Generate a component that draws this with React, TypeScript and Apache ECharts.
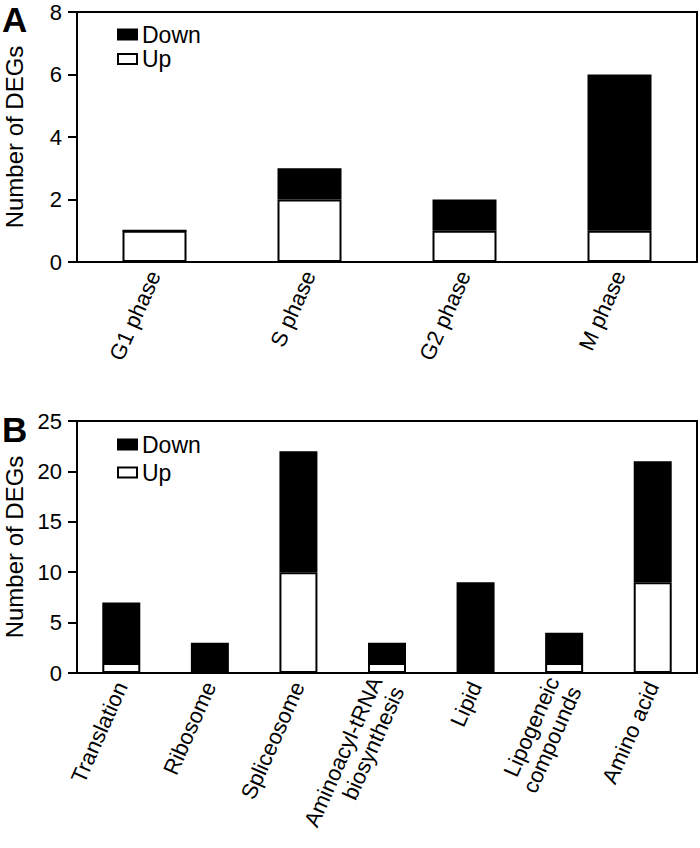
import React, { useEffect, useRef } from "react";
import * as echarts from "echarts";

const phaseCategories = ["G1 phase", "S phase", "G2 phase", "M phase"];
const phaseUp = [1, 2, 1, 1];
const phaseDown = [0, 1, 1, 5];
const phaseTicks = { min: 0, max: 8, interval: 2 };

const pathwayCategories = [
  "Translation",
  "Ribosome",
  "Spliceosome",
  "Aminoacyl-tRNA\nbiosynthesis",
  "Lipid",
  "Lipogeneic\ncompounds",
  "Amino acid",
];
const pathwayUp = [1, 0, 10, 1, 0, 1, 9];
const pathwayDown = [6, 3, 12, 2, 9, 3, 12];
const pathwayTicks = { min: 0, max: 25, interval: 5 };

const FONT = "Liberation Sans, Arial, sans-serif";

export default function App() {
  const ref = useRef<HTMLDivElement>(null);
  useEffect(() => {
    document.body.style.margin = "0";
    const chart = echarts.init(ref.current!, null, { renderer: "svg" });
    const axisLine = { show: true, lineStyle: { color: "#000", width: 2 } };
    const yAxisCommon = (t: any) => ({
      type: "value",
      min: t.min,
      max: t.max,
      interval: t.interval,
      name: "Number of DEGs",
      nameLocation: "middle",
      nameGap: 51,
      nameTextStyle: { fontFamily: FONT, fontSize: 24, color: "#000" },
      axisLine,
      axisTick: { show: true, inside: false, length: 9, lineStyle: { color: "#000", width: 2 } },
      axisLabel: { fontFamily: FONT, fontSize: 22, color: "#000", margin: 15 },
      splitLine: { show: false },
    });
    const xAxisCommon = (cats: string[]) => ({
      type: "category",
      data: cats,
      axisLine,
      axisTick: { show: false },
      axisLabel: {
        fontFamily: FONT,
        fontSize: 22,
        color: "#000",
        rotate: 66,
        margin: 10,
        interval: 0,
        lineHeight: 24,
      },
    });
    const upStyle = { color: "#fff", borderColor: "#000", borderWidth: 2 };
    const downStyle = { color: "#000", borderColor: "#000", borderWidth: 2 };
    const legendCommon = {
      data: ["Down", "Up"],
      orient: "vertical",
      left: 117,
      padding: 0,
      icon: "rect",
      itemWidth: 19,
      itemHeight: 10,
      selectedMode: false,
      textStyle: { fontFamily: FONT, fontSize: 23, color: "#000", lineHeight: 22 },
    };
    chart.setOption({
      animation: false,
      grid: [
        { left: 77, top: 12, width: 620, height: 250, show: true, borderColor: "#000", borderWidth: 2, backgroundColor: "transparent", outerBoundsMode: "none", containLabel: false },
        { left: 77, top: 421, width: 620, height: 252, show: true, borderColor: "#000", borderWidth: 2, backgroundColor: "transparent", outerBoundsMode: "none", containLabel: false },
      ],
      legend: [
        { ...legendCommon, top: 23, itemGap: 1.5 },
        { ...legendCommon, top: 433, itemGap: 5 },
      ],
      xAxis: [
        { ...xAxisCommon(phaseCategories), gridIndex: 0 },
        { ...xAxisCommon(pathwayCategories), gridIndex: 1 },
      ],
      yAxis: [
        { ...yAxisCommon(phaseTicks), gridIndex: 0 },
        { ...yAxisCommon(pathwayTicks), gridIndex: 1 },
      ],
      series: [
        { name: "Up", type: "bar", stack: "a", xAxisIndex: 0, yAxisIndex: 0, data: phaseUp, barWidth: 64, itemStyle: upStyle },
        { name: "Down", type: "bar", stack: "a", xAxisIndex: 0, yAxisIndex: 0, data: phaseDown, barWidth: 64, itemStyle: downStyle },
        { name: "Up", type: "bar", stack: "b", xAxisIndex: 1, yAxisIndex: 1, data: pathwayUp, barWidth: 38, itemStyle: upStyle },
        { name: "Down", type: "bar", stack: "b", xAxisIndex: 1, yAxisIndex: 1, data: pathwayDown, barWidth: 38, itemStyle: downStyle },
      ],
      graphic: [
        { type: "text", left: 2, top: 2, style: { text: "A", fontFamily: FONT, fontSize: 35, fontWeight: "bold", fill: "#000" } },
        { type: "text", left: 2, top: 412, style: { text: "B", fontFamily: FONT, fontSize: 35, fontWeight: "bold", fill: "#000" } },
      ],
    });
    return () => chart.dispose();
  }, []);
  return <div ref={ref} style={{ width: 700, height: 848 }} />;
}
